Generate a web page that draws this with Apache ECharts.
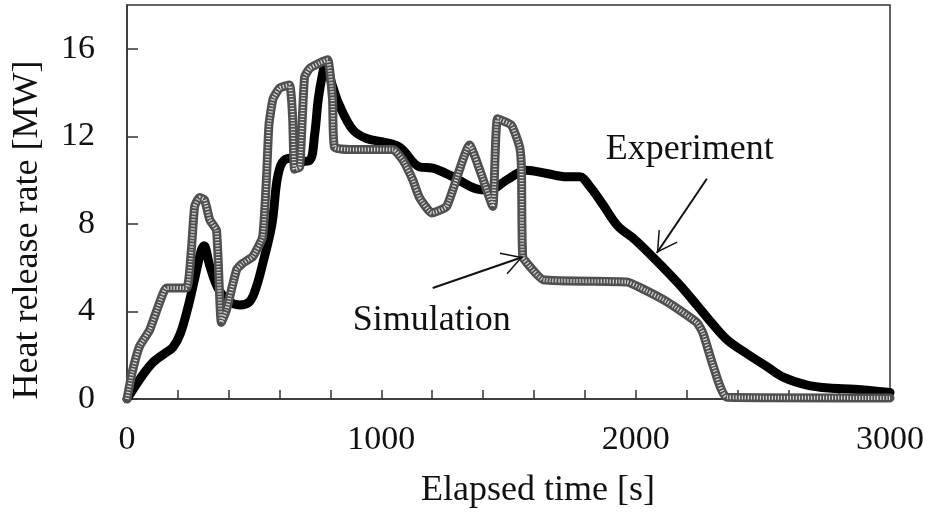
<!DOCTYPE html>
<html>
<head>
<meta charset="utf-8">
<script src="https://cdn.jsdelivr.net/npm/echarts@6/dist/echarts.min.js"></script>
<style>
html,body{margin:0;padding:0;background:#fff;}
#c{width:928px;height:514px;}
</style>
</head>
<body>
<div id="c"></div>
<script>
// Experiment (black thick line)
var expTime = [0, 50, 100, 150, 180, 210, 240, 268, 292, 303, 325, 356, 396, 443, 482, 508, 534, 570, 590, 610, 640, 679, 718, 738, 752, 768, 780, 808, 836, 888, 942, 1005, 1072, 1151, 1202, 1282, 1374, 1426, 1492, 1571, 1650, 1728, 1780, 1820, 1870, 1930, 1990, 2040, 2100, 2170, 2240, 2290, 2360, 2440, 2520, 2580, 2670, 2760, 2860, 3000];
var expHRR  = [0, 0.9, 1.65, 2.1, 2.35, 3.0, 4.2, 5.6, 6.8, 7.0, 6.1, 5.1, 4.5, 4.3, 4.45, 5.1, 6.2, 8.0, 10.0, 10.8, 11.0, 10.85, 10.9, 12.1, 13.7, 14.8, 15.3, 14.3, 13.4, 12.3, 11.9, 11.75, 11.5, 10.6, 10.55, 10.15, 9.6, 9.55, 10.0, 10.45, 10.3, 10.15, 10.15, 9.7, 8.9, 7.9, 7.35, 6.8, 6.1, 5.25, 4.3, 3.6, 2.7, 2.05, 1.45, 1.0, 0.65, 0.5, 0.45, 0.3];

// Simulation (grey textured line)
var simTime = [0, 20, 49, 89, 128, 155, 234, 253, 266, 285, 305, 325, 352, 371, 391, 431, 455, 494, 533, 548, 558, 574, 600, 639, 651, 659, 679, 698, 718, 757, 789, 808, 816, 875, 1046, 1085, 1124, 1150, 1198, 1257, 1347, 1395, 1438, 1457, 1512, 1544, 1551, 1556, 1584, 1636, 1965, 2016, 2122, 2240, 2265, 2306, 2358, 3000];
var simHRR  = [0, 1.2, 2.4, 3.15, 4.4, 5.07, 5.07, 6.8, 8.8, 9.2, 9.1, 8.2, 7.7, 3.5, 4.07, 5.9, 6.2, 6.5, 7.4, 10.0, 12.5, 13.7, 14.2, 14.35, 12.9, 10.5, 10.6, 14.7, 15.1, 15.35, 15.5, 13.7, 11.5, 11.4, 11.4, 10.9, 10.0, 9.2, 8.5, 8.8, 11.6, 10.2, 8.8, 12.8, 12.5, 11.5, 10.5, 6.5, 6.05, 5.45, 5.35, 5.1, 4.45, 3.5, 3.0, 1.47, 0.08, 0.05];

// Axis ticks
var xTicks = [0, 1000, 2000, 3000];
var yTicks = [0, 4, 8, 12, 16];

// Annotations (data coordinates)
var annoText = ['Experiment', 'Simulation'];
var annoTextPos = [[2213, 11.4], [1198, 3.6]];
var arrowFrom = [[2280, 10.06], [1202, 5.07]];
var arrowTo = [[2083, 6.67], [1556, 6.49]];

function zip(a, b) { return a.map(function (v, i) { return [v, b[i]]; }); }

var FONT = 'Liberation Serif';
var arrowPath = 'path://M0,0 L-11.5,20 L-10.2,20.7 L0,3 L10.2,20.7 L11.5,20 Z M0,-20.7 L0.05,-20.7 L0,-20.65 Z';

var chart = echarts.init(document.getElementById('c'), null, {renderer: 'canvas'});
var option = {
  animation: false,
  backgroundColor: '#fff',
  grid: {
    left: 127, right: 38, top: 5, bottom: 115,
    show: true, borderColor: '#333', borderWidth: 1.5, backgroundColor: 'transparent'
  },
  xAxis: {
    type: 'value', min: 0, max: 3000, interval: 1000,
    axisLine: {show: true, lineStyle: {color: '#333', width: 1.5}},
    axisTick: {show: true, inside: true, length: 9, lineStyle: {color: '#333', width: 1.5}},
    minorTick: {show: true, splitNumber: 5, length: 9, lineStyle: {color: '#333', width: 1.5}},
    splitLine: {show: false},
    axisLabel: {
      fontFamily: FONT, fontSize: 34, color: '#111', margin: 24,
      formatter: function (v) { return xTicks.indexOf(v) >= 0 ? String(v) : ''; }
    }
  },
  yAxis: {
    type: 'value', min: 0, max: 18, interval: 4,
    axisLine: {show: true, lineStyle: {color: '#333', width: 1.5}},
    axisTick: {show: true, inside: true, length: 11, lineStyle: {color: '#333', width: 1.5}},
    splitLine: {show: false},
    axisLabel: {
      fontFamily: FONT, fontSize: 34, color: '#111', margin: 32,
      showMaxLabel: false,
      formatter: function (v) { return yTicks.indexOf(v) >= 0 ? String(v) : ''; }
    }
  },
  graphic: [
    {
      type: 'text', x: 28, y: 230, rotation: Math.PI / 2,
      style: {text: 'Heat release rate [MW]', fontFamily: FONT, fontSize: 36, fill: '#111',
        textAlign: 'center', textVerticalAlign: 'middle'}
    },
    {
      type: 'text', x: 538, y: 491,
      style: {text: 'Elapsed time [s]', fontFamily: FONT, fontSize: 36, fill: '#111',
        textAlign: 'center', textVerticalAlign: 'middle'}
    }
  ],
  series: [
    {
      name: 'Experiment', type: 'line', data: zip(expTime, expHRR),
      showSymbol: false, smooth: 0.35, z: 2,
      lineStyle: {color: '#000', width: 9, cap: 'round', join: 'round'}
    },
    {
      name: 'Simulation', type: 'line', data: zip(simTime, simHRR),
      showSymbol: false, smooth: 0.15, z: 3,
      lineStyle: {color: '#505050', width: 9, cap: 'round', join: 'round'}
    },
    {
      name: 'SimulationTexture', type: 'line', data: zip(simTime, simHRR),
      showSymbol: false, smooth: 0.15, z: 4, silent: true,
      lineStyle: {color: '#d8d8d8', width: 4, type: [1.2, 1.8], cap: 'butt', join: 'round'}
    },
    {
      name: 'Annotations', type: 'line', data: [], z: 5,
      markLine: {
        silent: true, animation: false,
        symbol: ['none', arrowPath], symbolSize: [23, 41.4],
        lineStyle: {color: '#111', width: 2, type: 'solid'},
        label: {show: false},
        data: arrowFrom.map(function (f, i) {
          return [{coord: f}, {coord: arrowTo[i]}];
        })
      },
      markPoint: {
        silent: true, animation: false,
        data: annoText.map(function (t, i) {
          return {
            coord: annoTextPos[i], symbol: 'circle', symbolSize: 0,
            label: {show: true, position: 'inside', formatter: t,
              fontFamily: FONT, fontSize: 36, color: '#111'}
          };
        })
      }
    }
  ]
};
chart.setOption(option);
</script>
</body>
</html>
